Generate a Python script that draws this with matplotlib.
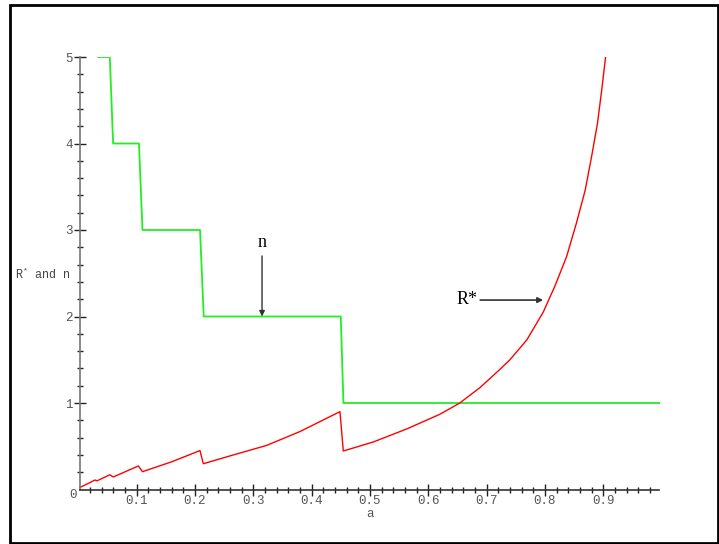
import matplotlib
matplotlib.use("Agg")
import matplotlib.pyplot as plt
from matplotlib.patches import Rectangle
import numpy as np

# n (green step curve)
n_a = [0.034, 0.054, 0.0597, 0.104, 0.110, 0.2087, 0.215, 0.450, 0.4545, 0.996]
n_val = [5, 5, 4, 4, 3, 3, 2, 2, 1, 1]

# R* (red curve)
r_a = [0.003, 0.0197, 0.0286, 0.032, 0.054, 0.060, 0.103, 0.110, 0.160, 0.2086,
       0.2143, 0.266, 0.323, 0.380, 0.4486, 0.4543, 0.506, 0.563, 0.620, 0.654,
       0.689, 0.723, 0.740, 0.769, 0.797, 0.817, 0.837, 0.854, 0.869, 0.880,
       0.890, 0.897, 0.904]
r_val = [0.025, 0.079, 0.110, 0.100, 0.170, 0.145, 0.272, 0.206, 0.320, 0.450,
         0.298, 0.400, 0.510, 0.670, 0.900, 0.445, 0.550, 0.700, 0.870, 1.000,
         1.180, 1.390, 1.500, 1.730, 2.050, 2.350, 2.690, 3.080, 3.460, 3.850,
         4.230, 4.600, 5.000]

x_major = [0.1, 0.2, 0.3, 0.4, 0.5, 0.6, 0.7, 0.8, 0.9]
y_major = [1, 2, 3, 4, 5]

plt.rcParams['mathtext.fontset'] = 'custom'
plt.rcParams['mathtext.rm'] = 'Liberation Mono'

W, H = 719, 544
fig = plt.figure(figsize=(W / 100, H / 100), dpi=100)
ax = fig.add_axes([78.3 / W, 54.5 / H, 583.3 / W, 432.5 / H])
ax.set_xlim(0, 1)
ax.set_ylim(0, 5)

ax.plot(n_a, n_val, color='#22ee22', lw=1.3)
ax.plot(r_a, r_val, color='#ff0000', lw=1.0)

# Maple-style axes
for s in ['top', 'right']:
    ax.spines[s].set_visible(False)
ax.spines['left'].set_position(('data', 0.003))
ax.spines['left'].set_bounds(0, 5)
ax.spines['bottom'].set_bounds(0.003, 0.996)
ax.spines['left'].set_color('#777777')
ax.spines['bottom'].set_color('#333333')
ax.spines['left'].set_linewidth(1.2)
ax.spines['bottom'].set_linewidth(1.2)

ax.set_xticks(x_major)
ax.set_xticks(np.arange(0.02, 0.99, 0.02), minor=True)
ax.set_yticks(y_major)
ax.set_yticks(np.arange(0.2, 5.0, 0.2), minor=True)
ax.set_xticklabels(["%.1f" % v for v in x_major])
ax.set_yticklabels([str(v) for v in y_major])
ax.tick_params(which='major', direction='inout', length=8, width=1.0, color='#222222',
               labelsize=9, labelcolor='#555555', pad=1)
ax.tick_params(axis='x', which='major', pad=0)
ax.tick_params(which='minor', direction='inout', length=4, width=1.0, color='#222222')
for lab in ax.get_xticklabels() + ax.get_yticklabels():
    lab.set_family('Liberation Mono')

fig.text(73 / W, 1 - 495 / H, "0", ha='center', va='center', fontsize=9,
         color='#555555', family='Liberation Mono')
fig.text(370 / W, 1 - 514 / H, "a", ha='center', va='center', fontsize=9,
         color='#555555', family='Liberation Mono')
fig.text(15 / W, 1 - 274 / H, r"R$^\mathrm{*}$ and n", ha='left', va='center',
         fontsize=8.5, color='#444444', family='Liberation Mono')

# annotations
ax.annotate("", xy=(0.315, 2.0), xytext=(0.315, 2.70),
            arrowprops=dict(arrowstyle='-|>', color='#333333', lw=1.0,
                            mutation_scale=8, shrinkA=0, shrinkB=0))
ax.text(0.315, 2.86, "n", ha='center', va='center', fontsize=13,
        family='Liberation Serif')
ax.annotate("", xy=(0.797, 2.19), xytext=(0.689, 2.19),
            arrowprops=dict(arrowstyle='-|>', color='#333333', lw=1.2,
                            mutation_scale=8, shrinkA=0, shrinkB=0))
ax.text(0.666, 2.20, "R*", ha='center', va='center', fontsize=13,
        family='Liberation Serif')

# outer frame
fig.patches.append(Rectangle((9.5 / W, 1.5 / H), 708 / W, 538 / H, transform=fig.transFigure,
                             fill=False, edgecolor='black', lw=2))

fig.savefig("out.png", dpi=100)
